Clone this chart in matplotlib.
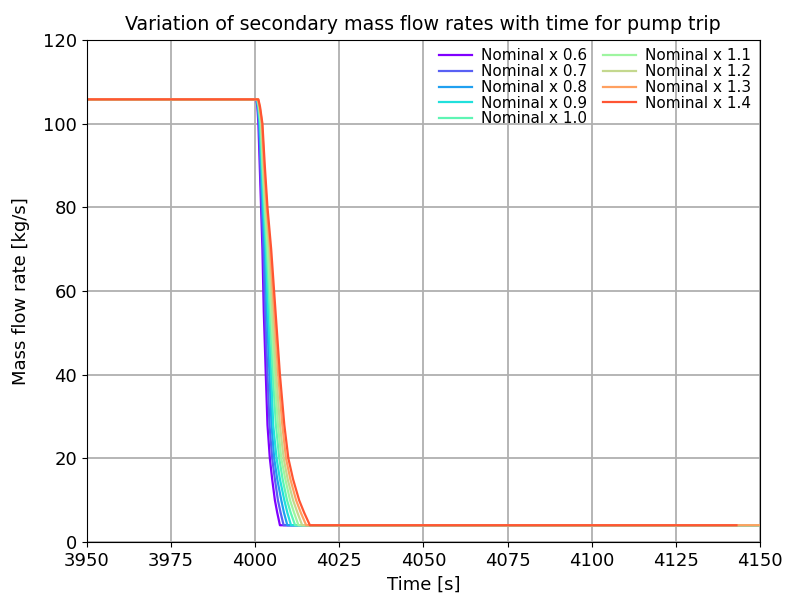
import matplotlib
matplotlib.use("Agg")
import matplotlib.pyplot as plt

# ----- DATA -----
labels = ["Nominal x 0.6", "Nominal x 0.7", "Nominal x 0.8", "Nominal x 0.9",
          "Nominal x 1.0", "Nominal x 1.1", "Nominal x 1.2", "Nominal x 1.3",
          "Nominal x 1.4"]
colors = ["#8000ff", "#5860f4", "#20a0f0", "#20e0dc", "#5ef5b4",
          "#9ef5a0", "#c4d88e", "#ffa060", "#ff5533"]

# flow levels [kg/s] and the time at which each curve reaches them
levels = [105.8, 105.8, 104, 100, 90, 80, 70, 55, 40, 28, 20, 15, 10, 7, 4.0, 4.0]
t_start = 3950
t_end = [4200, 4200, 4200, 4200, 4200, 4200, 4200, 4200, 4143]
drop_times = [
    [4000.4, 4000.7, 4001.0, 4001.4, 4001.8, 4002.2, 4002.6, 4003.2, 4003.7, 4004.4, 4005.1, 4005.9, 4006.6, 4007.4],
    [4000.5, 4000.8, 4001.2, 4001.6, 4002.0, 4002.5, 4003.0, 4003.7, 4004.3, 4005.1, 4005.9, 4006.8, 4007.6, 4008.5],
    [4000.5, 4000.9, 4001.3, 4001.8, 4002.3, 4002.9, 4003.5, 4004.3, 4004.9, 4005.7, 4006.6, 4007.8, 4008.6, 4009.6],
    [4000.6, 4001.0, 4001.5, 4002.0, 4002.5, 4003.2, 4003.9, 4004.8, 4005.4, 4006.4, 4007.4, 4008.7, 4009.6, 4010.7],
    [4000.7, 4001.1, 4001.6, 4002.2, 4002.8, 4003.5, 4004.4, 4005.3, 4006.2, 4007.2, 4008.2, 4009.5, 4010.6, 4011.9],
    [4000.8, 4001.2, 4001.8, 4002.3, 4003.0, 4003.8, 4004.8, 4005.8, 4006.8, 4007.8, 4009.0, 4010.4, 4011.6, 4012.9],
    [4000.8, 4001.3, 4001.9, 4002.5, 4003.2, 4004.2, 4005.2, 4006.3, 4007.4, 4008.5, 4009.7, 4011.3, 4012.6, 4014.0],
    [4000.9, 4001.4, 4002.1, 4002.7, 4003.5, 4004.5, 4005.7, 4006.9, 4008.1, 4009.2, 4010.5, 4012.2, 4013.6, 4015.2],
    [4001.0, 4001.5, 4002.2, 4002.9, 4003.7, 4004.8, 4006.1, 4007.4, 4008.7, 4009.9, 4011.3, 4013.1, 4014.6, 4016.3],
]

# ----- PLOT -----
fig = plt.figure(figsize=(7.88, 6.03), dpi=100)
ax = fig.add_axes([0.110, 0.1012, 0.8545, 0.8325])

for lab, col, times, tend in zip(labels, colors, drop_times, t_end):
    t = [t_start] + times + [tend]
    ax.plot(t, levels, color=col, lw=1.6, label=lab)

ax.set_xlim(3950, 4150)
ax.set_ylim(0, 120)
ax.set_xticks(range(3950, 4151, 25))
ax.set_yticks(range(0, 121, 20))
ax.tick_params(labelsize=13)
ax.grid(True, color="#b0b0b0", lw=1.3)
ax.set_axisbelow(True)
ax.set_xlabel("Time [s]", fontsize=13)
ax.set_ylabel("Mass flow rate [kg/s]", fontsize=13, labelpad=9)
ax.set_title("Variation of secondary mass flow rates with time for pump trip",
             fontsize=13.7, pad=7)
ax.legend(ncol=2, frameon=False, fontsize=11, loc="upper right",
          handlelength=2.2, labelspacing=0.05, columnspacing=1.0,
          handletextpad=0.6, borderaxespad=0.15)

fig.savefig("out.png", dpi=100)
